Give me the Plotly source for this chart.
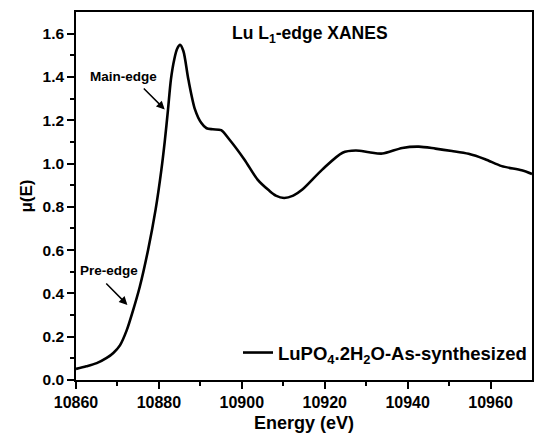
import plotly.graph_objects as go

energy = [10860, 10862.5, 10865, 10867.4, 10869, 10870.6, 10872.2, 10873.8, 10875.4, 10877.4,
          10879.2, 10880.6, 10881.4, 10882.2, 10882.9, 10883.7, 10884.4, 10885.1, 10885.9, 10887.1,
          10888.7, 10890.2, 10891.5, 10893.0, 10895.0, 10897.0, 10900.6, 10903.8, 10906.6, 10908.2,
          10910.2, 10912.4, 10914.6, 10919.4, 10924.3, 10927.5, 10930.7, 10933.9, 10938.7, 10942.7,
          10946.7, 10950.7, 10954.7, 10958.7, 10962.7, 10967.5, 10970]
mu = [0.051, 0.063, 0.078, 0.102, 0.125, 0.160, 0.228, 0.324, 0.432, 0.602,
      0.787, 0.972, 1.100, 1.250, 1.389, 1.481, 1.530, 1.548, 1.520, 1.389,
      1.250, 1.188, 1.163, 1.158, 1.154, 1.111, 1.019, 0.926, 0.875, 0.852,
      0.841, 0.852, 0.880, 0.972, 1.050, 1.060, 1.052, 1.046, 1.072, 1.078,
      1.069, 1.058, 1.045, 1.020, 0.988, 0.969, 0.952]

x_ticks = [10860, 10880, 10900, 10920, 10940, 10960]
y_ticks = [0.0, 0.2, 0.4, 0.6, 0.8, 1.0, 1.2, 1.4, 1.6]
x_minor = [10870, 10890, 10910, 10930, 10950]
y_minor = [0.1, 0.3, 0.5, 0.7, 0.9, 1.1, 1.3, 1.5]

series_name = "<b>LuPO<sub>4</sub>.2H<sub>2</sub>O-As-synthesized</b>"
title_text = "<b>Lu L<sub>1</sub>-edge XANES</b>"

FONT = "Liberation Sans, Arial, sans-serif"
L, R, T, B = 76, 2, 12, 63
W, H = 536, 443
XR = [10860, 10970]
YR = [0, 1.7]
plot_w = W - L - R
plot_h = H - T - B


def px_to_paper(px, py):
    return (px - L) / plot_w, (H - B - py) / plot_h


def data_to_px(x, y):
    return L + (x - XR[0]) / (XR[1] - XR[0]) * plot_w, (H - B) - (y - YR[0]) / (YR[1] - YR[0]) * plot_h


fig = go.Figure()
fig.add_trace(go.Scatter(x=energy, y=mu, mode="lines", name=series_name,
                         line=dict(color="black", width=2.6, shape="spline", smoothing=0.8)))

arrows = [((10881.4, 1.25), (142.7, 87)), ((10872.4, 0.347), (105, 282))]
for (hx, hy), (tx, ty) in arrows:
    hpx, hpy = data_to_px(hx, hy)
    fig.add_annotation(x=hx, y=hy, ax=tx - hpx, ay=ty - hpy, text="", showarrow=True,
                       arrowhead=2, arrowsize=1.1, arrowwidth=1.5, arrowcolor="black")

texts = [("<b>Main-edge</b>", 124, 77, 13.5), ("<b>Pre-edge</b>", 109, 270, 13.5),
         (title_text, 311, 34, 17.5)]
for t, px, py, sz in texts:
    xp, yp = px_to_paper(px, py)
    fig.add_annotation(x=xp, y=yp, xref="paper", yref="paper", text=t, showarrow=False,
                       xanchor="center", yanchor="middle", font=dict(size=sz, family=FONT, color="black"))

fig.update_layout(
    width=W, height=H,
    margin=dict(l=L, r=R, t=T, b=B),
    paper_bgcolor="white", plot_bgcolor="white",
    font=dict(family=FONT, color="black", size=15),
    showlegend=True,
    legend=dict(x=1.0, y=px_to_paper(0, 353)[1], xanchor="right", yanchor="middle",
                font=dict(size=18.5, family=FONT, color="black"),
                bgcolor="rgba(0,0,0,0)", borderwidth=0, itemwidth=30),
)

axis_common = dict(ticks="outside", ticklen=7, tickwidth=1.5, tickcolor="#000000",
                   showline=True, linecolor="#000000", linewidth=1.5, mirror=True,
                   showgrid=False, zeroline=False)

fig.update_xaxes(range=XR, tickvals=x_ticks, ticktext=["<b>%d</b>" % v for v in x_ticks],
                 minor=dict(tickvals=x_minor, ticks="outside", ticklen=4, tickwidth=1.5,
                            tickcolor="#000000", showgrid=False),
                 tickfont=dict(size=16, family=FONT, color="black"),
                 title=dict(text="<b>Energy (eV)</b>", font=dict(size=18, family=FONT), standoff=6),
                 **axis_common)
fig.update_yaxes(range=YR, tickvals=y_ticks, ticktext=["<b>%.1f</b>" % v for v in y_ticks],
                 minor=dict(tickvals=y_minor, ticks="outside", ticklen=4, tickwidth=1.5,
                            tickcolor="#000000", showgrid=False),
                 tickfont=dict(size=15.5, family=FONT, color="black"),
                 title=dict(text="<b>μ(E)</b>", font=dict(size=17, family=FONT), standoff=6),
                 **axis_common)

fig.write_html("out.html")
